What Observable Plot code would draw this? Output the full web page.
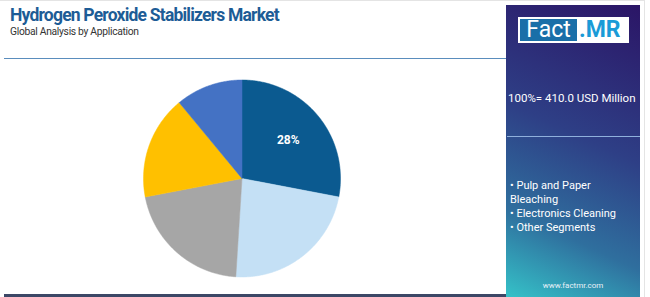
<!DOCTYPE html>
<html>
<head>
<meta charset="utf-8">
<script src="https://cdn.jsdelivr.net/npm/d3@7"></script>
<script src="https://cdn.jsdelivr.net/npm/@observablehq/plot@0.6"></script>
<style>
  html, body { margin: 0; padding: 0; background: #fff; }
  body { width: 650px; height: 297px; position: relative; overflow: hidden; font-family: Roboto, "Open Sans", sans-serif; }
  #frame { position: absolute; left: 0; top: 0; width: 645px; height: 297px; border-top: 1px solid #e4e4e4; border-right: 1px solid #e4e4e4; box-sizing: border-box; }
  #title { position: absolute; left: 10px; top: 5px; font: 700 17.5px Roboto, sans-serif; color: #1d5c96; letter-spacing: -0.8px; white-space: nowrap; }
  #subtitle { position: absolute; left: 10px; top: 25px; font: 400 10.3px Roboto, sans-serif; color: #333; letter-spacing: -0.3px; white-space: nowrap; }
  #rule { position: absolute; left: 4px; top: 58px; width: 502px; height: 1px; background: #5a8dbd; }
  #bottom { position: absolute; left: 4px; top: 294px; width: 503px; height: 3px; background: #3c4766; }
  #panel { position: absolute; left: 506px; top: 5px; width: 134px; height: 292px;
           background: linear-gradient(205deg, #2b1566 0%, #2e3f86 45%, #2f6f9e 75%, #35c2c8 100%); color: #fff; }
  #logo { position: absolute; left: 12px; top: 12px; width: 111px; height: 26px; background: #fff; }
  #logo .fact { position: absolute; left: 2px; top: 2px; width: 57px; height: 22px; background: #1a6fa8; color: #fff; font: 400 23px Roboto, sans-serif; line-height: 22px; text-align: center; }
  #logo .mr { position: absolute; left: 61px; top: 2px; height: 22px; color: #1a9bd7; font: 700 23px Roboto, sans-serif; line-height: 22px; }
  #total { position: absolute; left: 2px; top: 86px; width: 132px; text-align: left; font: 400 11.5px Roboto, sans-serif; white-space: nowrap; }
  #prule { position: absolute; left: 1px; top: 131px; width: 133px; height: 1px; background: #8fb0dc; }
  #legend { position: absolute; left: 4px; top: 174px; width: 128px; font: 400 11px Roboto, sans-serif; line-height: 14px; }
  #url { position: absolute; left: 0; top: 276px; width: 134px; text-align: center; font: 400 8px Roboto, sans-serif; color: #e8f0f8; }
  #chart { position: absolute; left: 4px; top: 63px; }
</style>
</head>
<body>
<div id="frame"></div>
<div id="title"></div>
<div id="subtitle"></div>
<div id="rule"></div>
<div id="chart"></div>
<div id="bottom"></div>
<div id="panel">
  <div id="logo"><div class="fact">Fact</div><div class="mr">.MR</div></div>
  <div id="total"></div>
  <div id="prule"></div>
  <div id="legend"></div>
  <div id="url">www.factmr.com</div>
</div>
<script>
const titleText = "Hydrogen Peroxide Stabilizers Market";
const subtitleText = "Global Analysis by Application";
const totalText = "100%= 410.0 USD Million";
const legendItems = ["Pulp and Paper Bleaching", "Electronics Cleaning", "Other Segments"];
const segments = ["Segment A", "Segment B", "Segment C", "Segment D", "Segment E"];
const shares = [28, 23, 21, 17, 11];
const colors = ["#0b5a90", "#c4e0f5", "#a6a6a6", "#ffc000", "#4472c4"];
const shownLabels = ["28%", "", "", "", ""];

document.getElementById("title").textContent = titleText;
document.getElementById("subtitle").textContent = subtitleText;
document.getElementById("total").textContent = totalText;
document.getElementById("legend").innerHTML = legendItems.map(s => "• " + s).join("<br>");

// Build slice polygons from the shares (angles clockwise from 12 o'clock)
const pie = d3.pie().sort(null).value(d => d)(shares);
const pts = [];
const labels = [];
pie.forEach((p, i) => {
  const seg = segments[i];
  pts.push({seg, x: 0, y: 0});
  const n = Math.max(2, Math.ceil((p.endAngle - p.startAngle) / 0.01));
  for (let k = 0; k <= n; k++) {
    const a = p.startAngle + (p.endAngle - p.startAngle) * k / n;
    pts.push({seg, x: Math.sin(a), y: Math.cos(a)});
  }
  pts.push({seg, x: 0, y: 0});
  const mid = (p.startAngle + p.endAngle) / 2;
  labels.push({seg, label: shownLabels[i], x: 0.61 * Math.sin(mid), y: 0.61 * Math.cos(mid)});
});

const R = 98.5, W = 475, H = 230;
const chart = Plot.plot({
  width: W, height: H,
  margin: 0,
  x: {domain: [-(W / 2) / R, (W / 2) / R], axis: null},
  y: {domain: [-(H / 2) / R, (H / 2) / R], axis: null},
  color: {domain: segments, range: colors},
  marks: [
    Plot.line(pts, {x: "x", y: "y", z: "seg", fill: "seg", stroke: "seg", strokeWidth: 0.5, curve: "linear"}),
    Plot.text(labels.filter(d => d.label), {x: "x", y: "y", text: "label", fill: "white",
      fontWeight: 700, fontSize: 12, fontFamily: "Roboto, sans-serif"})
  ]
});
document.getElementById("chart").appendChild(chart);
</script>
</body>
</html>
